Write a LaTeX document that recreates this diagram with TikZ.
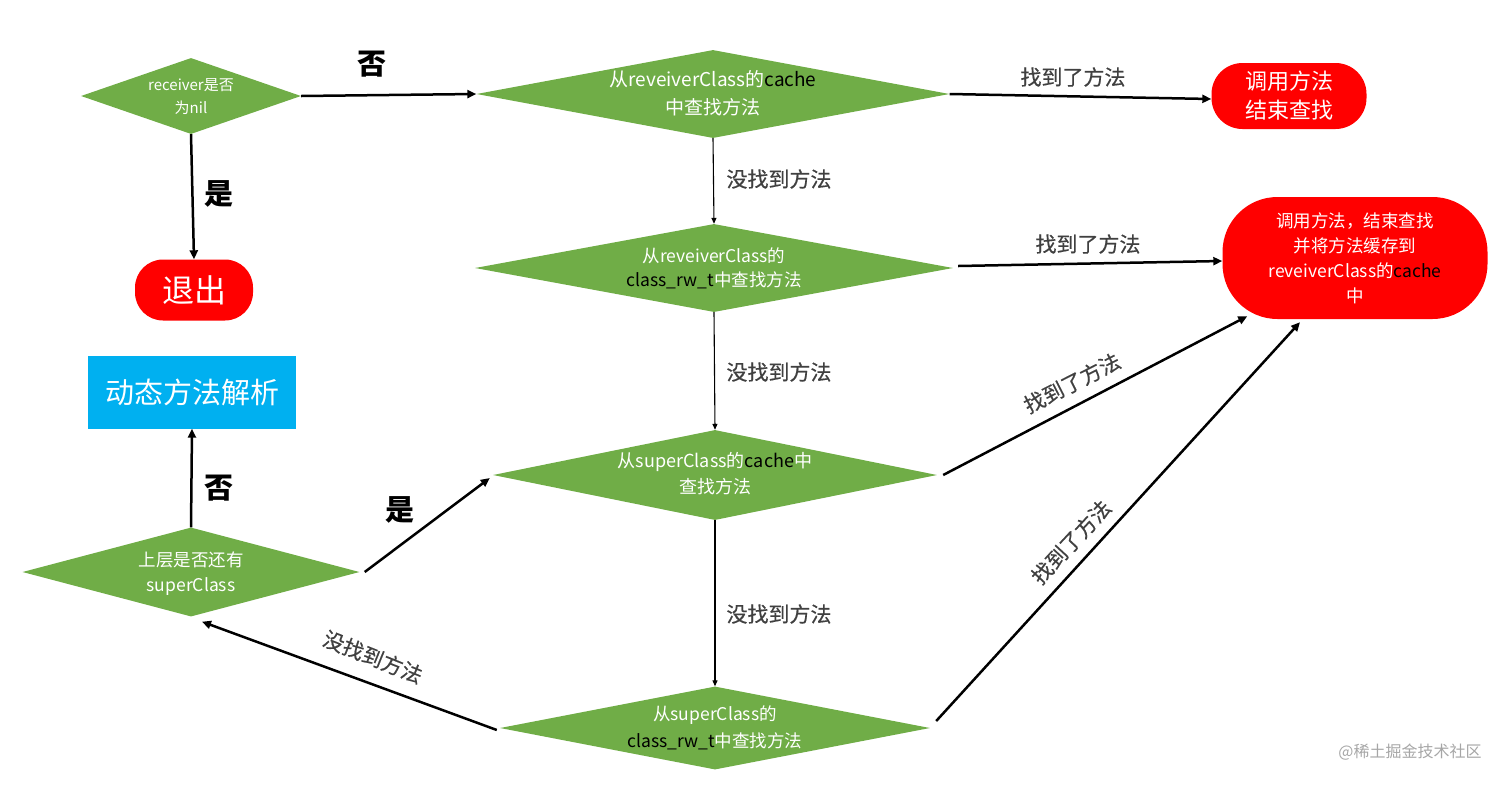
\documentclass[tikz,border=0pt]{standalone}
\usepackage{fontspec}
\setmainfont{Noto Sans CJK SC}
\newfontfamily\medfont[FakeBold=0.5]{Noto Sans CJK SC}
\usetikzlibrary{shapes.geometric,arrows.meta}
\definecolor{dgreen}{HTML}{70AD47}
\definecolor{dred}{HTML}{FF0000}
\definecolor{dblue}{HTML}{00B0F0}
\definecolor{lblgray}{HTML}{404040}
\begin{document}
\begin{tikzpicture}[x=1pt,y=-1pt,
  diam/.style={diamond,fill=dgreen,draw=none,inner sep=0pt,aspect=1},
  dtext/.style={text=white,align=center,inner sep=0pt},
  redbox/.style={fill=dred,draw=none,text=white,align=center,inner sep=0pt},
  thickarrow/.style={line width=2.5pt,-{Triangle[length=9pt,width=8pt]}},
  thinarrow/.style={line width=1.1pt,-{Triangle[length=6pt,width=5pt]}},
  yesno/.style={font=\fontsize{29}{31}\selectfont\bfseries,text=black},
  lbl/.style={font=\medfont\fontsize{21}{23}\selectfont,text=lblgray}]
\useasboundingbox (0,0) rectangle (1512,785);

% diamonds
\node[diam,minimum width=220pt,minimum height=76pt] (d1) at (191,96) {};
\node[diam,minimum width=473pt,minimum height=88pt] (d2) at (713,94) {};
\node[diam,minimum width=478pt,minimum height=88pt] (d3) at (714,268) {};
\node[diam,minimum width=444pt,minimum height=90pt] (d4) at (715,475) {};
\node[diam,minimum width=430pt,minimum height=83pt] (d5) at (715,728) {};
\node[diam,minimum width=337pt,minimum height=89pt] (d6) at (191,572) {};

\node[dtext,font=\fontsize{15}{23}\selectfont] (t1) at (191,97) {receiver是否\\为nil};
\node[dtext,font=\fontsize{19}{28}\selectfont] (t2) at (713,93) {从reveiverClass的{\color{black}cache}\\中查找方法};
\node[dtext,font=\fontsize{17.5}{24}\selectfont] (t3) at (714,268) {从reveiverClass的\\{\color{black}class\_rw\_t}中查找方法};
\node[dtext,font=\fontsize{18}{26}\selectfont] (t4) at (715,474) {从superClass的{\color{black}cache}中\\查找方法};
\node[dtext,font=\fontsize{17.5}{27}\selectfont] (t5) at (715,728) {从superClass的\\{\color{black}class\_rw\_t}中查找方法};
\node[dtext,font=\fontsize{17.5}{25}\selectfont] (t6) at (191,574) {上层是否还有\\superClass};

% terminal boxes
\node[redbox,rounded corners=31pt,minimum width=155pt,minimum height=66pt,
  font=\fontsize{22}{29}\selectfont] (r1) at (1289,96) {调用方法\\结束查找};
\node[redbox,rounded corners=55pt,minimum width=265pt,minimum height=122pt,
  font=\fontsize{17.5}{25}\selectfont] (r2) at (1355,258) {调用方法，结束查找\\并将方法缓存到\\reveiverClass的{\color{black}cache}\\中};
\node[redbox,rounded corners=28pt,minimum width=118pt,minimum height=61pt,
  font=\fontsize{32}{34}\selectfont] (ex) at (194,290) {退出};
\node[fill=dblue,draw=none,text=white,inner sep=0pt,minimum width=208pt,minimum height=73pt,
  font=\fontsize{29}{31}\selectfont] (dyn) at (192,392) {动态方法解析};

% connectors
\draw[thickarrow] (d1.east) -- (d2.west);
\draw[thickarrow] (d1.south) -- (ex.north);
\draw[thickarrow] (d2.east) -- ([yshift=-3pt]r1.west);
\draw[thinarrow] (d2.south) -- (d3.north);
\draw[thickarrow] ([xshift=5pt,yshift=2pt]d3.east) -- ([yshift=-3pt]r2.west);
\draw[thinarrow] (d3.south) -- (d4.north);
\draw[thickarrow] ([xshift=6pt]d4.east) -- ([xshift=25pt,yshift=3pt]r2.south west);
\draw[thinarrow] (d4.south) -- (d5.north);
\draw[thickarrow] ([xshift=6pt,yshift=7pt]d5.east) -- ([xshift=-55pt,yshift=-3pt]r2.south);
\draw[thickarrow] ([xshift=-3pt,yshift=-2pt]d5.west) -- ([xshift=11pt,yshift=-5pt]d6.south);
\draw[thickarrow] ([xshift=5pt]d6.east) -- ([xshift=-3pt,yshift=-3pt]d4.west);
\draw[thickarrow] (d6.north) -- (dyn.south);

% labels
\node[yesno] (no1) at (372,64) {否};
\node[yesno] (yes1) at (219,194) {是};
\node[yesno] (no2) at (219,488) {否};
\node[yesno] (yes2) at (400,510) {是};
\node[lbl] (nf1) at (779,179) {没找到方法};
\node[lbl] (nf2) at (779,372) {没找到方法};
\node[lbl] (nf3) at (779,614) {没找到方法};
\node[lbl,rotate=-22] (nf4) at (373,657) {没找到方法};
\node[lbl] (f1) at (1073,77) {找到了方法};
\node[lbl] (f2) at (1088,244) {找到了方法};
\node[lbl,rotate=27] (f3) at (1072,383) {找到了方法};
\node[lbl,rotate=47] (f4) at (1071,542) {找到了方法};

\node[font=\fontsize{16}{18}\selectfont,text=gray!70] (wm) at (1410,752) {@稀土掘金技术社区};
\end{tikzpicture}
\end{document}
